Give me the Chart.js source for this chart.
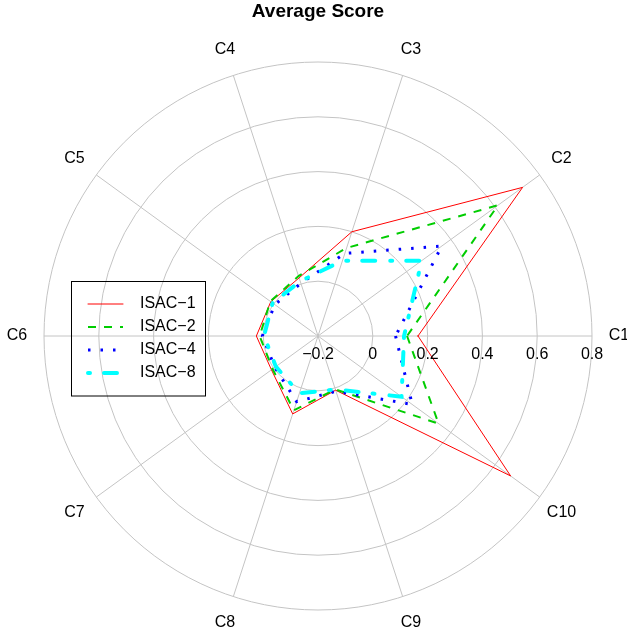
<!DOCTYPE html>
<html lang="en">
<head>
    <meta charset="UTF-8">
    <title>Average Score</title>
    <script src="https://cdn.jsdelivr.net/npm/chart.js"></script>
    <style>
        body { margin: 0; background: #fff; }
    </style>
</head>
<body>
    <canvas id="radarChart" width="627" height="634"></canvas>

    <script>
        // Data
        const categories = ['C1', 'C2', 'C3', 'C4', 'C5', 'C6', 'C7', 'C8', 'C9', 'C10'];
        const seriesNames = ['ISAC\u22121', 'ISAC\u22122', 'ISAC\u22124', 'ISAC\u22128'];
        const isac1 = [0.165, 0.723, 0.200, 0.023, 0.013, 0.025, 0.010, 0.099, 0.008, 0.669];
        const isac2 = [0.125, 0.612, 0.138, 0.030, 0.015, 0.013, 0.005, 0.085, 0.005, 0.344];
        const isac4 = [0.083, 0.358, 0.117, 0.002, -0.005, 0.003, -0.005, 0.052, 0.012, 0.225];
        const isac8 = [0.114, 0.268, 0.089, 0.010, 0.005, -0.003, -0.010, 0.020, 0.005, 0.177];
        const tickValues = [-0.2, 0, 0.2, 0.4, 0.6, 0.8];
        const tickLabels = ['\u22120.2', '0', '0.2', '0.4', '0.6', '0.8'];

        // the original goes counterclockwise from 3 o'clock, Chart.js goes clockwise
        const order = categories.map((_, i) => (categories.length - i) % categories.length);
        const reorder = arr => order.map(i => arr[i]);

        const FONT = "'Liberation Sans', Arial, Helvetica, sans-serif";

        const datasets = [
            { label: seriesNames[0], data: reorder(isac1), borderColor: '#ff0000', borderWidth: 1, borderDash: [], borderCapStyle: 'round', order: 4 },
            { label: seriesNames[1], data: reorder(isac2), borderColor: '#00cd00', borderWidth: 2, borderDash: [8, 8], borderCapStyle: 'butt', order: 3 },
            { label: seriesNames[2], data: reorder(isac4), borderColor: '#0000ff', borderWidth: 3, borderDash: [2.5, 10], borderCapStyle: 'butt', order: 2 },
            { label: seriesNames[3], data: reorder(isac8), borderColor: '#00ffff', borderWidth: 4, borderDash: [2, 14, 13, 15], borderCapStyle: 'round', order: 1 }
        ];

        // texts, title and legend box drawn on top, positions taken from the scale
        const extras = {
            id: 'extras',
            afterDraw(chart) {
                const ctx = chart.ctx;
                const s = chart.scales.r;
                ctx.save();
                ctx.fillStyle = '#000';
                ctx.textAlign = 'center';
                ctx.textBaseline = 'middle';

                // category labels
                ctx.font = '16px ' + FONT;
                order.forEach((catIdx, i) => {
                    const p = s.getPointPosition(i, s.drawingArea + 27);
                    ctx.fillText(categories[catIdx], p.x, p.y);
                });

                // tick labels along C1 axis
                tickValues.forEach((v, k) => {
                    const d = s.getDistanceFromCenterForValue(v);
                    ctx.fillText(tickLabels[k], s.xCenter + d, s.yCenter + 19);
                });

                // title
                ctx.font = 'bold 19px ' + FONT;
                ctx.fillText('Average Score', s.xCenter, 12);

                // legend
                const bx = 71.5, by = 281.5, bw = 134, bh = 114.5;
                ctx.strokeStyle = '#000';
                ctx.lineWidth = 1;
                ctx.setLineDash([]);
                ctx.strokeRect(bx, by, bw, bh);
                ctx.font = '16px ' + FONT;
                ctx.textAlign = 'left';
                chart.data.datasets.forEach((ds, k) => {
                    const y = 304 + k * 23;
                    ctx.save();
                    ctx.strokeStyle = ds.borderColor;
                    ctx.lineWidth = ds.borderWidth;
                    ctx.lineCap = ds.borderCapStyle;
                    ctx.setLineDash(ds.borderDash);
                    ctx.beginPath();
                    ctx.moveTo(88, y);
                    ctx.lineTo(123, y);
                    ctx.stroke();
                    ctx.restore();
                    ctx.fillText(ds.label, 140, y);
                });
                ctx.restore();
            }
        };

        const ctx = document.getElementById('radarChart').getContext('2d');
        const radarChart = new Chart(ctx, {
            type: 'radar',
            data: { labels: reorder(categories), datasets: datasets },
            options: {
                responsive: false,
                animation: false,
                layout: { padding: { left: 44, right: 35, top: 62, bottom: 24 } },
                elements: {
                    line: { tension: 0, fill: false },
                    point: { radius: 0, hoverRadius: 0 }
                },
                plugins: {
                    legend: { display: false },
                    title: { display: false },
                    tooltip: { enabled: false }
                },
                scales: {
                    r: {
                        startAngle: 90,
                        min: -0.2,
                        max: 0.8,
                        beginAtZero: false,
                        ticks: { stepSize: 0.2, display: false },
                        pointLabels: { display: false },
                        grid: { circular: true, color: '#c4c4c4', lineWidth: 1 },
                        angleLines: { color: '#c4c4c4', lineWidth: 1 }
                    }
                }
            },
            plugins: [extras]
        });
    </script>
</body>
</html>
